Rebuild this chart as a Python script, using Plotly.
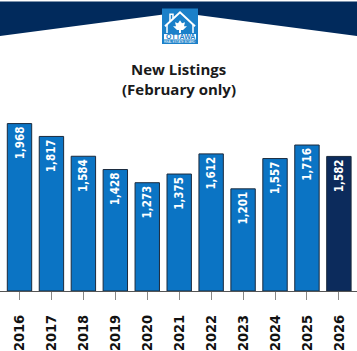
import plotly.graph_objects as go

years = ["2016", "2017", "2018", "2019", "2020", "2021", "2022", "2023", "2024", "2025", "2026"]
new_listings = [1968, 1817, 1584, 1428, 1273, 1375, 1612, 1201, 1557, 1716, 1582]
bar_colors = ["#0b74c4"] * 10 + ["#0c2b5c"]

W, H = 357, 351
T, B = 100, 57
PH = H - T - B

def py(y):
    return (H - B - y) / PH

def px(x):
    return x / W

fig = go.Figure()
fig.add_trace(go.Bar(
    x=years, y=new_listings,
    marker=dict(color=bar_colors, line=dict(color="#1b2a3d", width=1)),
    width=0.764,
    texttemplate="%{y:,}",
    textposition="inside",
    insidetextanchor="end",
    textangle=-90,
    constraintext="none",
    textfont=dict(family="DejaVu Sans Condensed, Arial", size=11.5, color="white", weight="bold"),
    hoverinfo="skip",
))

# header navy band with V cut
header = f"M {px(0)},{py(0)} L {px(357)},{py(0)} L {px(357)},{py(35)} L {px(178.5)},{py(11)} L {px(0)},{py(35)} Z"
shapes = [
    dict(type="path", path=header, xref="paper", yref="paper", fillcolor="#012a5c", line=dict(width=0), layer="above"),
    dict(type="rect", xref="paper", yref="paper", x0=px(162), x1=px(198), y0=py(43), y1=py(7),
         fillcolor="#1b80c9", line=dict(width=0), layer="above"),
]
# house roof outline
roof = f"M {px(165)},{py(25)} L {px(180)},{py(11)} L {px(195)},{py(25)}"
shapes.append(dict(type="path", path=roof, xref="paper", yref="paper", line=dict(color="white", width=2), layer="above"))
chim = f"M {px(170)},{py(20)} L {px(170)},{py(13)} L {px(173)},{py(13)} L {px(173)},{py(17)}"
shapes.append(dict(type="path", path=chim, xref="paper", yref="paper", line=dict(color="white", width=1.5), layer="above"))
walls = f"M {px(167)},{py(23)} L {px(167)},{py(32)} M {px(193)},{py(23)} L {px(193)},{py(32)}"
shapes.append(dict(type="path", path=walls, xref="paper", yref="paper", line=dict(color="white", width=1.5), layer="above"))
# maple leaf (simplified)
leaf_pts = [(180, 19), (182, 22), (185, 21), (184, 25), (187, 25), (183, 29), (181, 29), (181, 32),
            (179, 32), (179, 29), (177, 29), (173, 25), (176, 25), (175, 21), (178, 22)]
leaf = "M " + " L ".join(f"{px(a)},{py(b)}" for a, b in leaf_pts) + " Z"
shapes.append(dict(type="path", path=leaf, xref="paper", yref="paper", fillcolor="white", line=dict(width=0), layer="above"))
# OTTAWA band
shapes.append(dict(type="rect", xref="paper", yref="paper", x0=px(164), x1=px(196), y0=py(38.5), y1=py(33),
                   fillcolor="white", line=dict(width=0), layer="above"))

annotations = [
    dict(text="<b>OTTAWA</b>", x=px(180), y=py(35.8), xref="paper", yref="paper", showarrow=False,
         font=dict(family="Liberation Sans, Arial", size=7, color="#1b80c9"), xanchor="center", yanchor="middle"),
    dict(text="REAL ESTATE BOARD", x=px(180), y=py(40.8), xref="paper", yref="paper", showarrow=False,
         font=dict(family="Liberation Sans, Arial", size=3, color="white"), xanchor="center", yanchor="middle"),
    dict(text="<b>New Listings</b>", x=px(178.5), y=py(69), xref="paper", yref="paper", showarrow=False,
         font=dict(family="Open Sans, Arial", size=15, color="#1a1a1a"), xanchor="center", yanchor="middle"),
    dict(text="<b>(February only)</b>", x=px(178.5), y=py(89), xref="paper", yref="paper", showarrow=False,
         font=dict(family="Open Sans, Arial", size=15, color="#1a1a1a"), xanchor="center", yanchor="middle"),
]

step = 31.94
x0 = -19.5 / step
fig.update_layout(
    width=W, height=H,
    margin=dict(l=0, r=0, t=T, b=B, pad=0),
    paper_bgcolor="white", plot_bgcolor="white",
    showlegend=False,
    shapes=shapes,
    annotations=annotations,
    xaxis=dict(
        type="category", range=[x0, x0 + W / step],
        showline=True, linecolor="#555555", linewidth=1,
        ticks="outside", ticklen=8, tickcolor="#888888", tickwidth=1,
        tickangle=-90, showgrid=False,
        tickfont=dict(family="DejaVu Sans Condensed, Arial", size=14.5, color="#111111", weight="bold"),
        ticklabelstandoff=9,
    ),
    yaxis=dict(range=[0, PH / 0.0864], visible=False, showgrid=False, zeroline=False),
)

fig.write_html("out.html")
